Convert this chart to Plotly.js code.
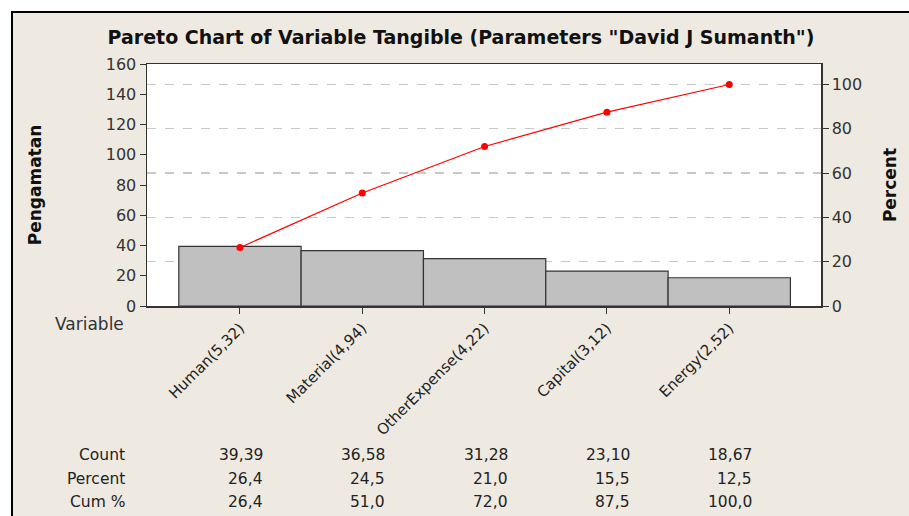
<!DOCTYPE html>
<html>
<head>
<meta charset="utf-8">
<script src="https://cdn.plot.ly/plotly-3.0.1.min.js"></script>
<style>
  html, body { margin: 0; padding: 0; background: #ffffff; }
  #frame { position: absolute; left: 11px; top: 11px; width: 898px; height: 505px;
           background: #EEEAE1; border-left: 2px solid #000; border-top: 2px solid #000; }
  #chart { position: absolute; left: 0; top: 0; width: 909px; height: 516px; }
</style>
</head>
<body>
<div id="frame"></div>
<div id="chart"></div>
<script>
// ---- data ----
const categories = ["Human(5,32)", "Material(4,94)", "OtherExpense(4,22)", "Capital(3,12)", "Energy(2,52)"];
const counts = [39.39, 36.58, 31.28, 23.10, 18.67];
const percents = [26.4, 24.5, 21.0, 15.5, 12.5];
const cumPercents = [26.4, 51.0, 72.0, 87.5, 100.0];
const leftTicks = [0, 20, 40, 60, 80, 100, 120, 140, 160];
const rightTicks = [0, 20, 40, 60, 80, 100];
const rowLabels = ["Count", "Percent", "Cum %"];

// ---- geometry helpers (pixel -> paper) ----
const PL = 147, PR = 821, PT = 64, PB = 306;
const px2x = p => (p - PL) / (PR - PL);
const py2y = p => (PB - p) / (PB - PT);

const fmt = (v, d) => v.toFixed(d).replace('.', ',');

const tickFont = { family: 'DejaVu Sans', size: 16, color: '#333333' };
const xTickFont = { family: 'DejaVu Sans', size: 15, color: '#222222' };
const tableFont = { family: 'DejaVu Sans', size: 15.5, color: '#222222' };
const titleFont = { family: 'DejaVu Sans', size: 17, color: '#111111', weight: 'bold' };

const bars = {
  type: 'bar',
  x: categories,
  y: counts,
  marker: { color: '#C0C0C0', line: { color: '#333333', width: 1.2 } },
  hoverinfo: 'x+y',
  showlegend: false
};
const cum = {
  type: 'scatter',
  mode: 'lines+markers',
  x: categories,
  y: cumPercents,
  yaxis: 'y2',
  line: { color: '#FF0000', width: 1.2 },
  marker: { color: '#FF0000', size: 7 },
  showlegend: false
};

const annotations = [];
const rowY = [455, 479, 502];
const rowData = [counts.map(v => fmt(v, 2)), percents.map(v => fmt(v, 1)), cumPercents.map(v => fmt(v, 1))];
rowLabels.forEach((lab, r) => {
  annotations.push({ xref: 'paper', yref: 'paper', x: px2x(127), y: py2y(rowY[r]),
    xanchor: 'right', yanchor: 'middle', text: lab, showarrow: false, font: tableFont });
  categories.forEach((c, i) => {
    annotations.push({ xref: 'x', yref: 'paper', x: i, y: py2y(rowY[r]), xshift: 25,
      xanchor: 'right', yanchor: 'middle', text: rowData[r][i], showarrow: false, font: tableFont });
  });
});
annotations.push({ xref: 'paper', yref: 'paper', x: px2x(126), y: py2y(324),
  xanchor: 'right', yanchor: 'middle', text: 'Variable', showarrow: false,
  font: { family: 'DejaVu Sans', size: 17, color: '#333333' } });

const layout = {
  width: 909, height: 516,
  paper_bgcolor: 'rgba(0,0,0,0)',
  plot_bgcolor: '#FFFFFF',
  margin: { l: PL, r: 909 - PR, t: PT, b: 516 - PB, pad: 0 },
  bargap: 0,
  title: { text: 'Pareto Chart of Variable Tangible (Parameters "David J Sumanth")',
           font: { family: 'DejaVu Sans', size: 19, color: '#111111', weight: 'bold' },
           x: px2x(461), xref: 'paper', xanchor: 'center', y: 1 - 37 / 516, yanchor: 'middle' },
  xaxis: {
    type: 'category', range: [-0.76, 4.75],
    showline: true, linecolor: '#333333', linewidth: 1.5, mirror: true,
    ticks: 'outside', ticklen: 6, tickcolor: '#333333', tickwidth: 1,
    tickangle: -45, tickfont: xTickFont, showgrid: false, zeroline: false, fixedrange: true
  },
  yaxis: {
    range: [0, 160], tickvals: leftTicks, ticktext: leftTicks.map(String),
    showline: true, linecolor: '#333333', linewidth: 1.5, mirror: true,
    ticks: 'outside', ticklen: 6, tickcolor: '#333333', tickfont: tickFont,
    showgrid: false, zeroline: false,
    title: { text: 'Pengamatan', standoff: 60, font: titleFont }
  },
  yaxis2: {
    overlaying: 'y', side: 'right', range: [0, 109.25],
    tickvals: rightTicks, ticktext: rightTicks.map(String),
    ticks: 'outside', ticklen: 6, tickcolor: '#333333', tickfont: tickFont,
    showline: true, linecolor: '#333333', linewidth: 1.5,
    showgrid: true, gridcolor: '#C8C8C8', griddash: 'dash', gridwidth: 1.2, zeroline: false,
    title: { text: 'Percent', standoff: 23, font: titleFont }
  },
  annotations: annotations
};

Plotly.newPlot('chart', [bars, cum], layout, { displayModeBar: false, staticPlot: true });
</script>
</body>
</html>
